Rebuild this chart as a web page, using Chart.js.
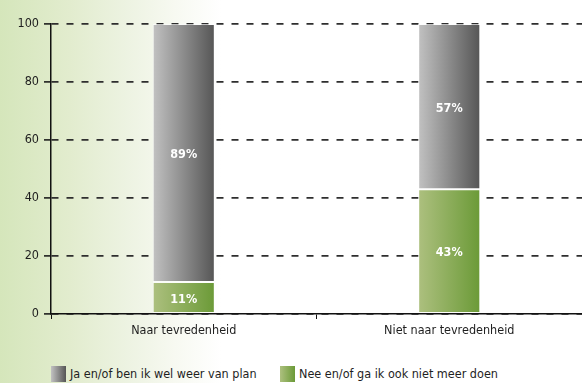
<!DOCTYPE html>
<html>
<head>
<meta charset="utf-8">
<script src="https://cdn.jsdelivr.net/npm/chart.js@4/dist/chart.umd.min.js"></script>
<style>
  html, body { margin: 0; padding: 0; width: 582px; height: 383px; overflow: hidden; }
  body {
    position: relative;
    background: linear-gradient(to right, #d5e6bb 0%, #e2ecce 12%, #edf3e2 22%, #f7f9f1 30%, #ffffff 38%, #ffffff 100%);
    font-family: "Liberation Sans Narrow", "DejaVu Sans Condensed", sans-serif;
  }
  #wrap { position: absolute; left: 0; top: 0; width: 582px; height: 345px; }
  #legenda { position: absolute; left: 51px; top: 366px; font-size: 12.5px; color: #1e1e1e; white-space: nowrap; }
  .item { position: absolute; top: 0; height: 16px; line-height: 16px; }
  .vak { display: inline-block; width: 15px; height: 16px; vertical-align: top; margin-right: 4px; }
</style>
</head>
<body>
<div id="wrap"><canvas id="grafiek"></canvas></div>
<div id="legenda"></div>
<script>
(function () {
  var CATEGORIEEN = ["Naar tevredenheid", "Niet naar tevredenheid"];
  var REEKSEN = ["Ja en/of ben ik wel weer van plan", "Nee en/of ga ik ook niet meer doen"];
  var JA = [89, 57];
  var NEE = [11, 43];
  var Y_TICKS = [0, 20, 40, 60, 80, 100];

  var KLEUREN = [["#c2c2c2", "#555555"], ["#adc07f", "#6b9a37"]];
  var LETTER = '"Liberation Sans Narrow", "DejaVu Sans Condensed", sans-serif';
  var BAR_PCT = 0.234;

  // horizontale verloop per staaf
  function verloop(i) {
    return function (c) {
      var chart = c.chart;
      if (!chart.chartArea) { return KLEUREN[i][1]; }
      var x = chart.scales.x;
      var mid = x.getPixelForValue(c.dataIndex);
      var half = (x.width / CATEGORIEEN.length) * BAR_PCT / 2;
      var g = chart.ctx.createLinearGradient(mid - half, 0, mid + half, 0);
      g.addColorStop(0, KLEUREN[i][0]);
      g.addColorStop(1, KLEUREN[i][1]);
      return g;
    };
  }

  // percentages in de staven
  var labelsPlugin = {
    id: "percentages",
    afterDatasetsDraw: function (chart) {
      var ctx = chart.ctx;
      ctx.save();
      ctx.fillStyle = "#ffffff";
      ctx.font = "bold 12.5px " + LETTER;
      ctx.textAlign = "center";
      ctx.textBaseline = "middle";
      chart.data.datasets.forEach(function (ds, di) {
        chart.getDatasetMeta(di).data.forEach(function (bar, i) {
          var y = (bar.y + bar.base) / 2;
          ctx.fillText(ds.data[i] + "%", bar.x, y + 2);
        });
      });
      ctx.restore();
    }
  };

  new Chart(document.getElementById("grafiek"), {
    type: "bar",
    data: {
      labels: CATEGORIEEN,
      datasets: [
        { label: REEKSEN[1], data: NEE, backgroundColor: verloop(1) },
        { label: REEKSEN[0], data: JA, backgroundColor: verloop(0) }
      ]
    },
    options: {
      responsive: true,
      maintainAspectRatio: false,
      animation: false,
      layout: { padding: { top: 24, right: 0, left: 0, bottom: 0 } },
      datasets: {
        bar: {
          categoryPercentage: 1,
          barPercentage: BAR_PCT,
          borderWidth: 1,
          borderColor: "rgba(255,255,255,0.6)",
          borderSkipped: false
        }
      },
      plugins: {
        legend: { display: false },
        tooltip: { enabled: false }
      },
      scales: {
        x: {
          stacked: true,
          grid: { display: true, drawOnChartArea: false, offset: true, color: "#111", lineWidth: 1, tickLength: 5 },
          border: { color: "#111", width: 1.5 },
          ticks: { color: "#1e1e1e", font: { family: LETTER, size: 12.5 }, padding: 4 },
          afterFit: function (s) { s.height = 31; }
        },
        y: {
          stacked: true,
          min: 0,
          max: 100,
          afterBuildTicks: function (s) { s.ticks = Y_TICKS.map(function (v) { return { value: v }; }); },
          grid: { color: "#2e2e2e", lineWidth: 1.8, tickLength: 7, tickColor: "#111", tickWidth: 1.5 },
          border: { color: "#111", width: 1.5, dash: [7, 8] },
          ticks: { color: "#1e1e1e", font: { family: LETTER, size: 12.5 }, padding: 5 },
          afterFit: function (s) { s.width = 51; }
        }
      }
    },
    plugins: [labelsPlugin]
  });

  // legenda onderaan
  var legenda = document.getElementById("legenda");
  [0, 1].forEach(function (i) {
    var item = document.createElement("div");
    item.className = "item";
    item.style.left = (i === 0 ? 0 : 229) + "px";
    var vak = document.createElement("span");
    vak.className = "vak";
    vak.style.background = "linear-gradient(to right, " + KLEUREN[i][0] + ", " + KLEUREN[i][1] + ")";
    item.appendChild(vak);
    item.appendChild(document.createTextNode(REEKSEN[i]));
    legenda.appendChild(item);
  });
})();
</script>
</body>
</html>
